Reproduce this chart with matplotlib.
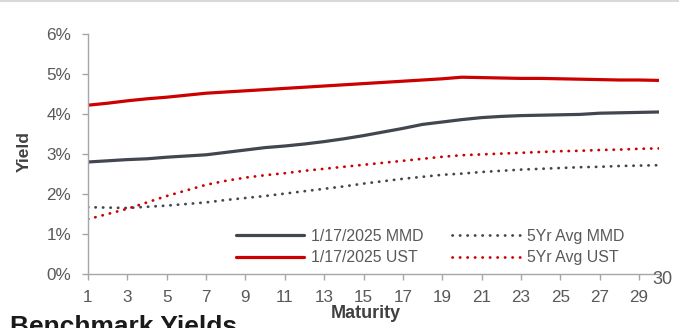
import matplotlib
matplotlib.use('Agg')
import matplotlib.pyplot as plt
from matplotlib.lines import Line2D

plt.rcParams['font.family'] = ['Liberation Sans', 'DejaVu Sans']

# Benchmark yields by maturity (years), in percent
maturity = list(range(1, 31))
mmd_current = [2.80, 2.83, 2.86, 2.88, 2.92, 2.95, 2.98, 3.04, 3.10, 3.16,
               3.20, 3.25, 3.31, 3.38, 3.46, 3.55, 3.64, 3.74, 3.80, 3.86,
               3.91, 3.94, 3.96, 3.97, 3.98, 3.99, 4.02, 4.03, 4.04, 4.05]
ust_current = [4.22, 4.27, 4.33, 4.38, 4.42, 4.47, 4.52, 4.55, 4.58, 4.61,
               4.64, 4.67, 4.70, 4.73, 4.76, 4.79, 4.82, 4.85, 4.88, 4.92,
               4.91, 4.90, 4.89, 4.89, 4.88, 4.87, 4.86, 4.85, 4.85, 4.84]
mmd_5yr_avg = [1.67, 1.66, 1.65, 1.68, 1.71, 1.75, 1.79, 1.85, 1.90, 1.95,
               2.01, 2.07, 2.13, 2.19, 2.26, 2.32, 2.38, 2.43, 2.48, 2.51,
               2.55, 2.58, 2.61, 2.63, 2.65, 2.67, 2.68, 2.70, 2.71, 2.72]
ust_5yr_avg = [1.37, 1.50, 1.63, 1.79, 1.95, 2.09, 2.23, 2.33, 2.41, 2.47,
               2.52, 2.58, 2.63, 2.68, 2.73, 2.78, 2.83, 2.88, 2.93, 2.97,
               2.99, 3.01, 3.03, 3.05, 3.07, 3.08, 3.10, 3.11, 3.13, 3.14]

labels = ['1/17/2025 MMD', '1/17/2025 UST', '5Yr Avg MMD', '5Yr Avg UST']
x_ticks = list(range(1, 30, 2))
y_ticks = [0, 1, 2, 3, 4, 5, 6]

RED = '#CC0000'
DARK = '#41464F'
TEXT = '#595959'
AXIS = '#A6A6A6'
dots = (0, (0.1, 2.6))

W, H = 688, 328
fig = plt.figure(figsize=(W / 100, H / 100), dpi=100)
ax = fig.add_axes([88 / W, 1 - 274 / H, (658.7 - 88) / W, 240 / H])

l1, = ax.plot(maturity, mmd_current, color=DARK, lw=2.3, solid_capstyle='round')
l2, = ax.plot(maturity, ust_current, color=RED, lw=2.3, solid_capstyle='round')
l3, = ax.plot(maturity, mmd_5yr_avg, color=DARK, lw=2.0, linestyle=dots,
              dash_capstyle='round')
l4, = ax.plot(maturity, ust_5yr_avg, color=RED, lw=2.0, linestyle=dots,
              dash_capstyle='round')

ax.set_xlim(1, 30)
ax.set_ylim(0, 6)
ax.set_xticks(x_ticks)
ax.set_yticks(y_ticks)
ax.set_yticklabels([f'{v}%' for v in y_ticks])

for side in ['top', 'right']:
    ax.spines[side].set_visible(False)
for side in ['left', 'bottom']:
    ax.spines[side].set_color(AXIS)
    ax.spines[side].set_linewidth(1.0)
ax.tick_params(axis='both', colors=AXIS, labelcolor=TEXT, labelsize=12.3,
               length=4, width=1.0, direction='out')
ax.tick_params(axis='x', pad=7.5)
ax.tick_params(axis='y', pad=8)

fig.text(24.5 / W, 1 - 152 / H, 'Yield', fontsize=12.5, fontweight='bold',
         color='#404040', rotation=90, ha='center', va='center')
fig.text(366 / W, 1 - 314 / H, 'Maturity', fontsize=13, fontweight='bold',
         color='#404040', ha='center', va='center')

# stray "30" label at the end of the axis
fig.text(652 / W, 1 - 279.5 / H, '30', fontsize=13, color=TEXT,
         ha='left', va='center')

ax.legend([l1, l2, l3, l4], labels, ncol=2, frameon=False, fontsize=11.4,
          loc='upper left', bbox_to_anchor=(236 / W, 1 - 229 / H),
          bbox_transform=fig.transFigure, borderpad=0, borderaxespad=0,
          handlelength=4.3, handletextpad=0.45, columnspacing=1.8,
          labelspacing=0.4, labelcolor=TEXT)

# cut-off title at the bottom and thin rule at the top
fig.text(10 / W, 1 - 334 / H, 'Benchmark Yields', fontsize=19,
         fontweight='bold', color='#1A1A1A', ha='left', va='baseline')
fig.add_artist(Line2D([0, 678 / W], [0.997, 0.997], color='#D9D9D9',
                      lw=1.5, transform=fig.transFigure))

fig.savefig('out.png', dpi=100)
